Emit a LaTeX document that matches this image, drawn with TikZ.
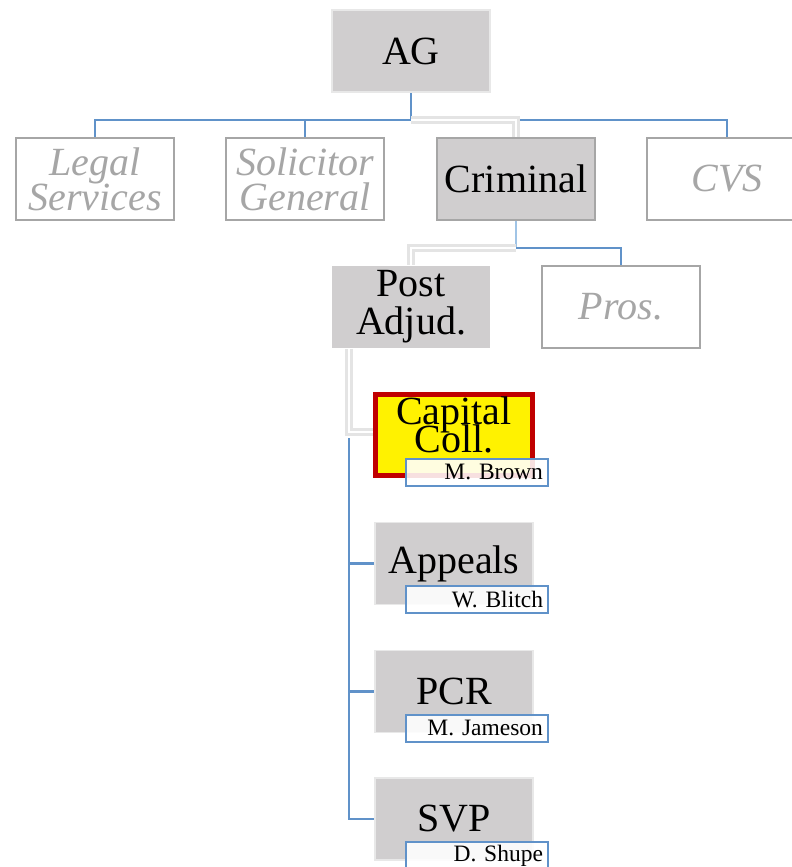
\documentclass[tikz,border=0pt]{standalone}
\usepackage{fontspec}
\setmainfont{Liberation Serif}
\usepackage{tikz}
\usetikzlibrary{backgrounds}
\usepackage{xcolor}

\definecolor{boxgray}{RGB}{208,206,207}
\definecolor{edgegray}{RGB}{166,166,166}
\definecolor{linkblue}{RGB}{96,146,201}
\definecolor{capred}{RGB}{192,0,0}

\newcommand\bigtxt{\fontsize{40}{35}\selectfont\lineskiplimit=-60pt\relax}
\newcommand\captxtfont{\fontsize{40}{28}\selectfont\lineskiplimit=-60pt\relax}
\newcommand\nametxt{\fontsize{23.5}{24}\selectfont}

\tikzset{
  unit/.style={rectangle, minimum width=158, minimum height=82, inner sep=0pt, align=center, font=\bigtxt},
  filled/.style={unit, fill=boxgray, draw={rgb,255:red,232;green,232;blue,232}, line width=1.2},
  empty/.style={unit, fill=white, draw=edgegray, line width=2, text=edgegray, font=\bigtxt\itshape},
  namebox/.style={rectangle, draw=linkblue, line width=2, fill=white, fill opacity=0.88, text opacity=1,
    text width=132, inner xsep=5, inner ysep=0, minimum height=27, align=right, font=\nametxt},
  link/.style={draw=linkblue, line width=2.2},
  hilink/.style={draw={rgb,255:red,228;green,228;blue,228}, line width=3, double=white, double distance=1.6}
}

\begin{document}
\begin{tikzpicture}[x=1pt,y=1pt,yscale=-1]
\useasboundingbox (0,0) rectangle (792,867);

% top level
\node [filled] (ag) at (411,51) {AG};

% divisions
\node [empty] (legal) at (95,179) {Legal\\Services};
\node [empty] (solgen) at (305,179) {Solicitor\\General};
\node [filled, draw=edgegray, line width=1.5] (crim) at (516,179) {Criminal};
\node [empty, minimum width=160] (cvs) at (727,179) {CVS};

% criminal sections
\node [filled, draw=none, font=\fontsize{40}{38}\selectfont] (postadj) at (411,307) {Post\\Adjud.};
\node [empty] (pros) at (621,307) {Pros.};

% units under post adjudication
\node [unit, fill=yellow, draw=capred, line width=5, minimum width=157, minimum height=81] (capcoll) at (454,435) {};
\node [inner sep=0pt, align=center, font=\captxtfont] (captxt) at ([yshift=-10]capcoll.center) {Capital\\Coll.};
\node [filled] (appeals) at (454,563.5) {Appeals};
\node [filled] (pcr) at (454,691.5) {PCR};
\node [filled] (svp) at (454,819) {SVP};

% names
\node [namebox] (brown) at (477,472) {M. Brown};
\node [namebox] (blitch) at (477,599.5) {W. Blitch};
\node [namebox] (jameson) at (477,728) {M. Jameson};
\node [namebox] (shupe) at (477,855.5) {D. Shupe};

% connectors
\coordinate (bus1) at (411,120);
\coordinate (bus2) at (516,248);
\coordinate (trunk) at (349,0);
\begin{scope}[on background layer]
\draw [link] (ag.south) -- (bus1) -| (legal.north);
\draw [link] (bus1) -| (solgen.north);
\draw [link] (bus1) -| (cvs.north);
\draw [hilink] (bus1) -| (crim.north);
\draw [draw={rgb,255:red,160;green,196;blue,230}, line width=1.2] (crim.south) -- (bus2);
\draw [link] (bus2) -| (pros.north);
\draw [hilink] (bus2) -| (postadj.north);
\draw [link] ([yshift=3]trunk |- capcoll.west) |- (svp.west);
\draw [link] (trunk |- appeals.west) -- (appeals.west);
\draw [link] (trunk |- pcr.west) -- (pcr.west);
\draw [hilink] (postadj.south -| trunk) |- ([yshift=-3]capcoll.west);
\end{scope}

\end{tikzpicture}
\end{document}
